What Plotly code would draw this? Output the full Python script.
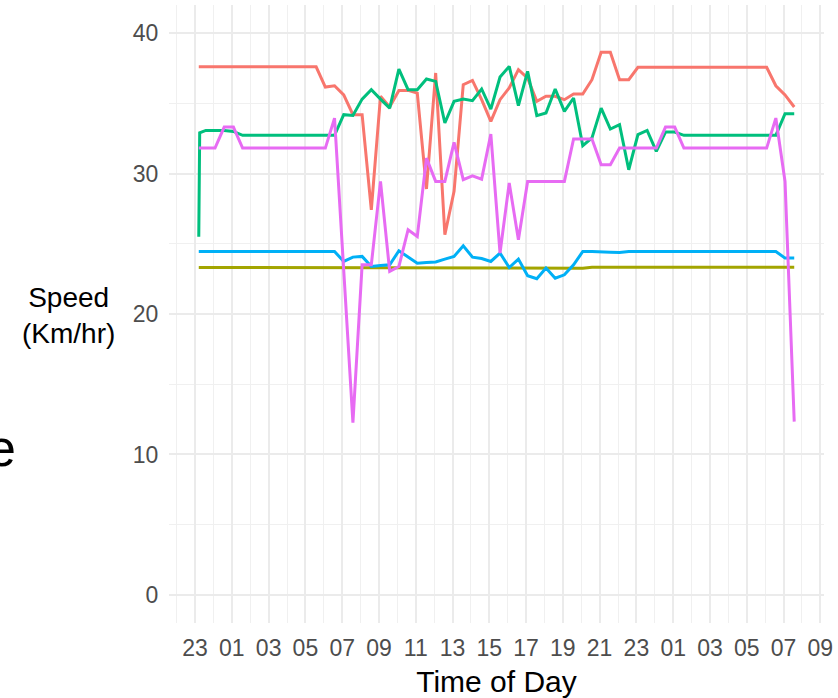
import pandas as pd
import plotly.graph_objects as go

# time stamps (two early samples, then half-hourly)
times_first = ["2019-01-01 23:12", "2019-01-01 23:15"]
times_grid = pd.date_range("2019-01-01 23:35", periods=65, freq="30min")
times = list(pd.to_datetime(times_first)) + list(times_grid)

red = [37.6, 37.6] + [37.6] * 13 + [
    36.16, 36.25, 35.6, 34.19, 34.19, 27.42, 35.5, 34.74, 35.92, 35.92, 35.73, 28.9,
    37.16, 25.64, 28.73, 36.33, 36.63, 35.26, 33.71, 35.26, 36.1, 37.4, 36.8, 35.14,
    35.5, 35.5, 35.26, 35.66, 35.66, 36.68, 38.63, 38.63, 36.68, 36.68] + [37.56] * 15 + [
    36.25, 35.6, 34.74]

olive = [23.31] * 43 + [23.26] + [23.33] * 23

green = [25.5, 32.9, 33.07, 33.07, 33.07, 33.0] + [32.72] * 11 + [
    34.19, 34.14, 35.3, 35.97, 35.3, 34.66, 37.44, 35.97, 35.97, 36.73, 36.56, 33.6,
    35.14, 35.3, 35.19, 36.02, 34.59, 36.87, 37.63, 34.83, 37.27, 34.12, 34.31, 36.02,
    34.43, 35.38, 31.98, 32.53, 34.66, 33.17, 33.48, 30.27, 32.77, 33.07, 31.58, 32.95,
    32.95] + [32.72] * 11 + [34.26, 34.26]

blue = [24.45, 24.45] + [24.45] * 15 + [
    23.74, 24.05, 24.1, 23.38, 23.45, 23.5, 24.5, 24.05, 23.62, 23.67, 23.71, 23.91,
    24.1, 24.86, 24.05, 23.95, 23.74, 24.34, 23.31, 23.91, 22.72, 22.51, 23.27, 22.55,
    22.79, 23.5, 24.45, 24.45, 24.45, 24.4, 24.38] + [24.45] * 17 + [23.98, 23.98]

magenta = [31.81, 31.81, 31.81, 31.81, 33.31, 33.31] + [31.81] * 10 + [
    33.95, 23.0, 12.27, 23.5, 23.5, 29.44, 23.03, 23.38, 26.0, 25.52, 31.1, 29.44,
    29.44, 32.22, 29.56, 29.84, 29.6, 32.81, 24.34, 29.33, 25.29] + [29.44] * 5 + [
    32.46, 32.46, 32.46, 30.63, 30.63] + [31.81] * 5 + [33.31, 33.31] + [31.81] * 10 + [
    33.95, 29.44, 12.34]

series = [
    ("A", red, "#F8766D"),
    ("B", olive, "#A3A500"),
    ("C", green, "#00BF7D"),
    ("D", blue, "#00B0F6"),
    ("E", magenta, "#E76BF3"),
]

fig = go.Figure()
for name, vals, col in series:
    fig.add_trace(go.Scatter(x=times, y=vals, mode="lines", name=name,
                             line=dict(color=col, width=3), showlegend=False))

t0, t1 = times[0], times[-1]
pad = (t1 - t0) * 0.05
base = pd.Timestamp("2019-01-01 23:00")

fig.update_layout(
    width=838, height=698,
    margin=dict(l=169, r=11, t=5, b=74),
    paper_bgcolor="white", plot_bgcolor="white",
    font=dict(family="Liberation Sans, Arial, sans-serif"),
    xaxis=dict(
        type="date", range=[t0 - pad, t1 + pad],
        tick0=base, dtick=7200000, tickformat="%H",
        showgrid=True, gridcolor="#EBEBEB", gridwidth=2.2,
        minor=dict(dtick=3600000, tick0=base, showgrid=True, gridcolor="#F0F0F0", gridwidth=1.3),
        zeroline=False, showline=False,
        ticks="outside", ticklen=4, tickcolor="rgba(0,0,0,0)",
        tickfont=dict(size=23, color="#4D4D4D"),
        title=dict(text="Time of Day", font=dict(size=30, color="black"), standoff=11),
    ),
    yaxis=dict(
        range=[-2, 42], tick0=0, dtick=10,
        showgrid=True, gridcolor="#EBEBEB", gridwidth=2.2,
        minor=dict(dtick=5, tick0=0, showgrid=True, gridcolor="#F0F0F0", gridwidth=1.3),
        zeroline=False, showline=False,
        ticks="outside", ticklen=5, tickcolor="rgba(0,0,0,0)",
        tickfont=dict(size=23, color="#4D4D4D"),
    ),
)

fig.add_annotation(text="Speed<br>(Km/hr)", xref="paper", yref="paper",
                   x=(68 - 169) / 658, y=(624 - 316) / 619, xanchor="center", yanchor="middle",
                   showarrow=False, font=dict(size=28, color="black"))
fig.add_annotation(text="e", xref="paper", yref="paper",
                   x=(17 - 169) / 658, y=(624 - 449) / 619, xanchor="right", yanchor="middle",
                   showarrow=False, font=dict(size=52, color="black"))

fig.write_html("out.html", config={"displayModeBar": False},
               post_script="document.body.style.margin='0';")
